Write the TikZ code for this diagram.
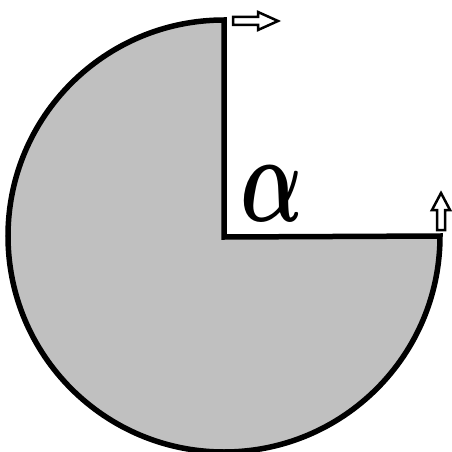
\documentclass[tikz,border=0pt]{standalone}
\usepackage{fix-cm}
\usepackage{bm}
\usetikzlibrary{calc,positioning}
\definecolor{sectorfill}{HTML}{C0C0C0}
\tikzset{
  sectoredge/.style={draw=black,line width=5.5pt,fill=sectorfill,line join=miter},
  hollowarrow/.style={draw=black,line width=2.5pt,fill=white,line join=miter},
  anglelabel/.style={font=\fontsize{125}{125}\selectfont,inner sep=0pt,xscale=0.66},
}

\begin{document}
\begin{tikzpicture}[x=1pt,y=-1pt]
  \path[use as bounding box] (0,0) rectangle (451,452);
  \coordinate (centre) at (224,237);
  \coordinate (rimtop) at (224,20);
  % three quarter disc
  \filldraw[sectoredge] (centre) -- (rimtop)
    arc[start angle=-90,end angle=-360,x radius=216,y radius=216] -- cycle;
  \node[anglelabel] (alpha) at (272,194) {$\bm{\alpha}$};
  % direction arrows at the two ends
  \draw[hollowarrow] (233,17) -- (258,17) -- (258,12) -- (278,21)
    -- (258,30) -- (258,25) -- (233,25) -- cycle;
  \draw[hollowarrow] (437,230) -- (437,210) -- (432,210) -- (441,193)
    -- (450,210) -- (445,210) -- (445,230) -- cycle;
\end{tikzpicture}
\end{document}
